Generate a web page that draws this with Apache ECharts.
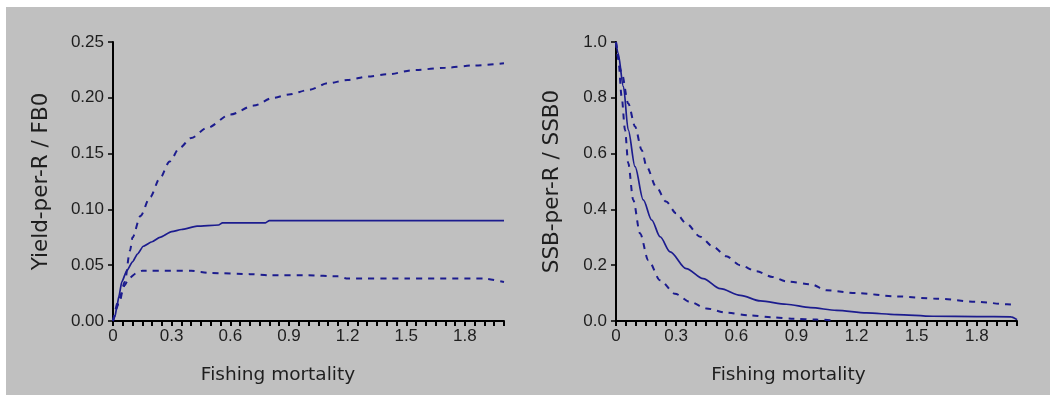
<!DOCTYPE html>
<html>
<head>
<meta charset="utf-8">
<script src="https://cdn.jsdelivr.net/npm/echarts@6/dist/echarts.min.js"></script>
<style>
  html, body { margin: 0; padding: 0; background: #fff; }
  #chart { width: 1057px; height: 397px; }
</style>
</head>
<body>
<div id="chart"></div>
<script>
// fishing mortality values (x) and curves
var yprMidF   = [0, 0.01, 0.02, 0.03, 0.045, 0.07, 0.1, 0.125, 0.155, 0.2, 0.24, 0.3, 0.35, 0.43, 0.54, 0.56, 0.78, 0.8, 1.2, 1.6, 2.0];
var yprMid    = [0, 0.004, 0.013, 0.022, 0.035, 0.045, 0.053, 0.06, 0.067, 0.071, 0.075, 0.080, 0.082, 0.085, 0.086, 0.088, 0.088, 0.09, 0.09, 0.09, 0.09];
var yprHighF  = [0, 0.03, 0.06, 0.087, 0.1, 0.14, 0.19, 0.24, 0.29, 0.34, 0.4, 0.48, 0.6, 0.72, 0.82, 0.9, 1.0, 1.1, 1.2, 1.3, 1.4, 1.55, 1.7, 1.85, 2.0];
var yprHigh   = [0, 0.015, 0.035, 0.063, 0.075, 0.094, 0.111, 0.128, 0.143, 0.155, 0.164, 0.173, 0.185, 0.193, 0.2, 0.203, 0.207, 0.213, 0.216, 0.219, 0.221, 0.225, 0.227, 0.229, 0.231];
var yprLowF   = [0, 0.03, 0.06, 0.08, 0.12, 0.15, 0.3, 0.4, 0.5, 0.7, 0.8, 1.0, 1.15, 1.2, 1.5, 1.9, 2.0];
var yprLow    = [0, 0.02, 0.032, 0.038, 0.043, 0.045, 0.045, 0.045, 0.043, 0.042, 0.041, 0.041, 0.040, 0.038, 0.038, 0.038, 0.035];

var ssbMidF   = [0, 0.01, 0.037, 0.061, 0.095, 0.136, 0.178, 0.22, 0.27, 0.35, 0.435, 0.52, 0.62, 0.72, 0.85, 0.97, 1.1, 1.25, 1.4, 1.58, 1.8, 1.97, 2.0];
var ssbMid    = [1.0, 0.96, 0.84, 0.685, 0.553, 0.434, 0.362, 0.302, 0.248, 0.188, 0.152, 0.116, 0.092, 0.072, 0.06, 0.048, 0.038, 0.029, 0.023, 0.017, 0.016, 0.015, 0.005];
var ssbHighF  = [0, 0.028, 0.061, 0.095, 0.128, 0.153, 0.2, 0.25, 0.3, 0.35, 0.42, 0.485, 0.55, 0.62, 0.7, 0.78, 0.85, 0.97, 1.05, 1.2, 1.4, 1.6, 1.8, 1.95, 2.0];
var ssbHigh   = [1.0, 0.89, 0.78, 0.697, 0.613, 0.553, 0.481, 0.428, 0.386, 0.35, 0.302, 0.266, 0.232, 0.2, 0.178, 0.158, 0.142, 0.132, 0.11, 0.1, 0.088, 0.08, 0.069, 0.06, 0.058];
var ssbLowF   = [0, 0.012, 0.028, 0.045, 0.061, 0.086, 0.12, 0.161, 0.22, 0.294, 0.37, 0.45, 0.55, 0.67, 0.78, 0.886, 1.0, 1.07];
var ssbLow    = [1.0, 0.937, 0.805, 0.685, 0.566, 0.434, 0.314, 0.218, 0.146, 0.098, 0.068, 0.045, 0.03, 0.02, 0.013, 0.008, 0.005, 0.003];

var xTitle = 'Fishing mortality';
var yTitles = ['Yield-per-R / FB0', 'SSB-per-R / SSB0'];

function pairs(xs, ys) {
    return xs.map(function (x, i) { return [x, ys[i]]; });
}

var navy = '#1c1c8e';
var ink = '#1e1e1e';

function xAxisFor(idx, shift) {
    return {
        type: 'value', gridIndex: idx, min: 0, max: 2, interval: 0.05,
        axisLine: { lineStyle: { color: '#000', width: 2 } },
        axisTick: { length: 5, lineStyle: { color: '#000', width: 2 } },
        splitLine: { show: false },
        axisLabel: {
            margin: 7, fontFamily: 'Liberation Sans', fontSize: 17, color: ink,
            formatter: function (v) {
                var k = v / 0.3;
                if (Math.abs(k - Math.round(k)) > 1e-6) return '';
                return v === 0 ? '0' : v.toFixed(1);
            }
        },
        name: xTitle, nameLocation: 'middle', nameGap: 45,
        nameTextStyle: { fontFamily: 'DejaVu Sans', fontSize: 18.5, color: ink, padding: [0, shift, 0, 0] }
    };
}

function yAxisFor(idx, max, step, digits, gap) {
    return {
        type: 'value', gridIndex: idx, min: 0, max: max, interval: step,
        axisLine: { lineStyle: { color: '#000', width: 2 } },
        axisTick: { length: 5, lineStyle: { color: '#000', width: 1.5 } },
        splitLine: { show: false },
        axisLabel: {
            margin: 9, fontFamily: 'Liberation Sans', fontSize: 17, color: ink,
            formatter: function (v) { return v.toFixed(digits); }
        },
        name: yTitles[idx], nameLocation: 'middle', nameGap: gap, nameRotate: 90,
        nameTextStyle: { fontFamily: 'DejaVu Sans', fontSize: 21.5, color: ink }
    };
}

function curve(idx, data, dashed, smooth) {
    return {
        type: 'line', xAxisIndex: idx, yAxisIndex: idx, data: data,
        showSymbol: false, silent: true,
        smooth: smooth, smoothMonotone: 'x',
        lineStyle: { color: navy, width: dashed ? 2 : 1.7, type: dashed ? [6, 6] : 'solid' }
    };
}

var myChart = echarts.init(document.getElementById('chart'));
var option = {
    backgroundColor: '#ffffff',
    animation: false,
    graphic: [{
        type: 'rect', z: -10, silent: true,
        shape: { x: 6, y: 7, width: 1044, height: 388 },
        style: { fill: '#c0c0c0' }
    }],
    grid: [
        { left: 113, top: 42, width: 391, height: 279 },
        { left: 616, top: 42, width: 401, height: 279 }
    ],
    xAxis: [xAxisFor(0, 61), xAxisFor(1, 56)],
    yAxis: [yAxisFor(0, 0.25, 0.05, 2, 61), yAxisFor(1, 1, 0.2, 1, 53)],
    series: [
        curve(0, pairs(yprMidF, yprMid), false, 0.2),
        curve(0, pairs(yprHighF, yprHigh), true, 0.3),
        curve(0, pairs(yprLowF, yprLow), true, 0.2),
        curve(1, pairs(ssbMidF, ssbMid), false, 0.3),
        curve(1, pairs(ssbHighF, ssbHigh), true, 0.3),
        curve(1, pairs(ssbLowF, ssbLow), true, 0.3)
    ]
};
myChart.setOption(option);
</script>
</body>
</html>
